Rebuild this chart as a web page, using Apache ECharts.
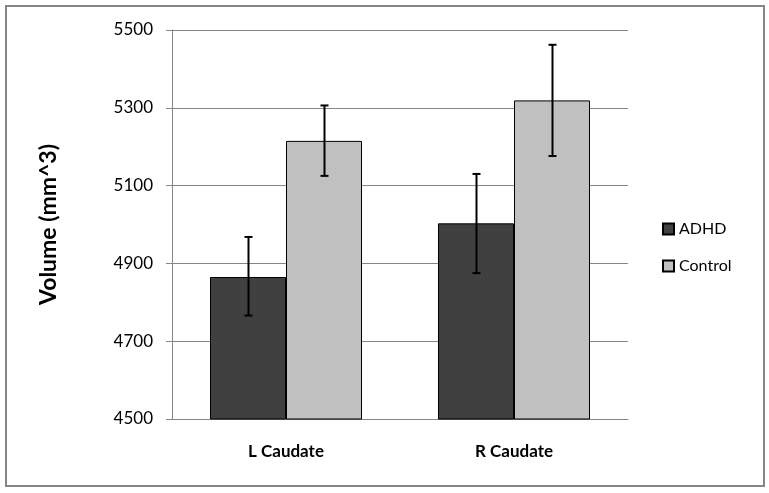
<!DOCTYPE html>
<html><head><meta charset="utf-8">
<script src="https://cdn.jsdelivr.net/npm/echarts@6/dist/echarts.min.js"></script>
<style>html,body{margin:0;padding:0;background:#fff}#c{width:769px;height:493px}</style>
</head><body><div id="c"></div>
<script>
var categories = ['L Caudate', 'R Caudate'];
var seriesNames = ['ADHD', 'Control'];
var adhdMean = [4865, 5003];
var controlMean = [5215, 5319];
var adhdErrLow = [4766, 4875];
var adhdErrHigh = [4968, 5130];
var controlErrLow = [5125, 5176];
var controlErrHigh = [5306, 5462];
var yTicks = [4500, 4700, 4900, 5100, 5300, 5500];

var FONT = 'Lato, "Open Sans", sans-serif';
var chart = echarts.init(document.getElementById('c'));

function errSeries(lows, highs, sideSign) {
  var data = categories.map(function (c, i) { return [i, lows[i], highs[i]]; });
  return {
    type: 'custom',
    z: 10,
    silent: true,
    renderItem: function (params, api) {
      var idx = api.value(0);
      var lo = api.coord([idx, api.value(1)]);
      var hi = api.coord([idx, api.value(2)]);
      var w = api.size([1, 0])[0];
      var x = Math.round(lo[0] + sideSign * w / 6) + 0.5;
      var cap = 4;
      var st = { stroke: '#000', lineWidth: 2 };
      return {
        type: 'group',
        children: [
          { type: 'line', shape: { x1: x, y1: hi[1], x2: x, y2: lo[1] }, style: st },
          { type: 'line', shape: { x1: x - cap, y1: hi[1], x2: x + cap, y2: hi[1] }, style: st },
          { type: 'line', shape: { x1: x - cap, y1: lo[1], x2: x + cap, y2: lo[1] }, style: st }
        ]
      };
    },
    encode: { x: 0, y: [1, 2] },
    data: data
  };
}

chart.setOption({
  animation: false,
  backgroundColor: '#fff',
  graphic: [{
    type: 'rect', shape: { x: 6, y: 6, width: 758, height: 480 },
    style: { fill: 'none', stroke: '#868686', lineWidth: 2 }, z: 100
  }],
  grid: { left: 172, right: 141, top: 30, bottom: 74 },
  legend: {
    orient: 'vertical', left: 657, top: 214,
    itemWidth: 11, itemHeight: 11, itemGap: 17,
    icon: 'rect',
    data: seriesNames,
    textStyle: { fontFamily: FONT, fontSize: 16, color: '#000', lineHeight: 20 }
  },
  xAxis: {
    type: 'category', data: categories,
    axisLine: { show: true, lineStyle: { color: '#868686', width: 1 } },
    axisTick: { show: false },
    axisLabel: { fontFamily: FONT, fontSize: 17, fontWeight: 'bold', color: '#000', margin: 24 }
  },
  yAxis: {
    type: 'value', min: 4500, max: 5500, interval: 200,
    name: 'Volume (mm^3)', nameLocation: 'middle', nameGap: 112,
    nameTextStyle: { fontFamily: FONT, fontSize: 23, fontWeight: 'bold', color: '#000' },
    axisLine: { show: true, lineStyle: { color: '#868686', width: 1 } },
    axisTick: { show: true, length: 6, lineStyle: { color: '#868686' } },
    splitLine: { show: true, lineStyle: { color: '#868686', width: 1 } },
    axisLabel: {
      fontFamily: FONT, fontSize: 17, color: '#000', margin: 19,
      formatter: function (v) { return yTicks.indexOf(v) >= 0 ? String(v) : ''; }
    }
  },
  series: [
    { name: 'ADHD', type: 'bar', data: adhdMean, barGap: '0%', barCategoryGap: '33.33%',
      itemStyle: { color: '#404040', borderColor: '#000', borderWidth: 1 } },
    { name: 'Control', type: 'bar', data: controlMean, barGap: '0%', barCategoryGap: '33.33%',
      itemStyle: { color: '#c0c0c0', borderColor: '#000', borderWidth: 1 } },
    errSeries(adhdErrLow, adhdErrHigh, -1),
    errSeries(controlErrLow, controlErrHigh, 1)
  ]
});
</script></body></html>
